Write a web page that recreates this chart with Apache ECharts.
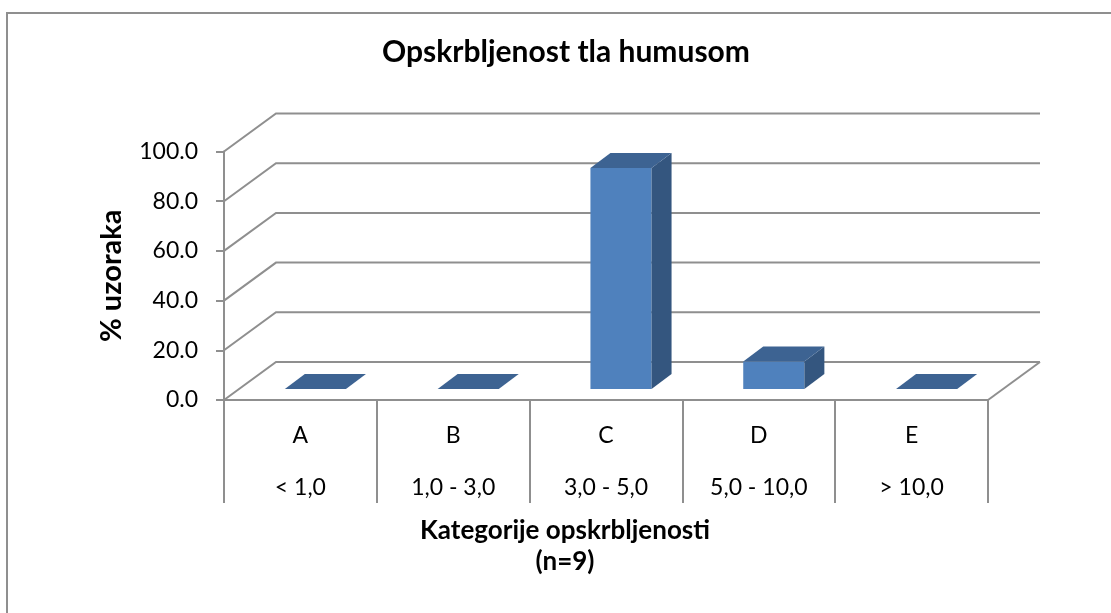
<!DOCTYPE html>
<html>
<head>
<meta charset="utf-8">
<script src="https://cdn.jsdelivr.net/npm/echarts@6/dist/echarts.min.js"></script>
<style>html,body{margin:0;padding:0;background:#fff;}#c{width:1111px;height:613px;}</style>
</head>
<body>
<div id="c"></div>
<script>
var titleText = 'Opskrbljenost tla humusom';
var categories = ['A', 'B', 'C', 'D', 'E'];
var ranges = ['< 1,0', '1,0 - 3,0', '3,0 - 5,0', '5,0 - 10,0', '> 10,0'];
var values = [0, 0, 88.9, 11.1, 0];
var yTicks = [0, 20, 40, 60, 80, 100];
var yName = '% uzoraka';
var xName = 'Kategorije opskrbljenosti\n(n=9)';

var GRAY = '#8f8f8f';
var FONT = 'Lato';
var WALL_DX = 52, WALL_DY = -38;   // back wall offset
var BAR_OX = 15, BAR_OY = -11;     // bar front face offset from front plane
var BAR_DX = 20, BAR_DY = -15;     // bar depth
var BAR_RATIO = 0.4;

var chart = echarts.init(document.getElementById('c'), null, {renderer: 'canvas'});

function renderWall(params, api) {
  var cs = params.coordSys;
  var v = api.value(1);
  var y = api.coord([0, v])[1];
  var l = cs.x, r = cs.x + cs.width;
  var children = [{
    type: 'polyline',
    shape: {points: [[l, y], [l + WALL_DX, y + WALL_DY], [r + WALL_DX, y + WALL_DY]]},
    style: {stroke: GRAY, lineWidth: 2, fill: null}
  }];
  if (v === 0) {
    children.push({
      type: 'line',
      shape: {x1: r, y1: y, x2: r + WALL_DX, y2: y + WALL_DY},
      style: {stroke: GRAY, lineWidth: 2}
    });
  }
  return {type: 'group', children: children};
}

function renderBar(params, api) {
  var idx = api.value(0);
  var v = api.value(1);
  var base = api.coord([idx, 0]);
  var top = api.coord([idx, v]);
  var band = api.size([1, 0])[0];
  var w = band * BAR_RATIO;
  var x0 = base[0] - w / 2 + BAR_OX;
  var yb = base[1] + BAR_OY;
  var yt = top[1] + BAR_OY;
  var children = [];
  if (yb - yt > 0.5) {
    children.push({
      type: 'rect',
      shape: {x: x0, y: yt, width: w, height: yb - yt},
      style: {fill: '#4f81bd'}
    });
    children.push({
      type: 'polygon',
      shape: {points: [[x0 + w, yt], [x0 + w + BAR_DX, yt + BAR_DY], [x0 + w + BAR_DX, yb + BAR_DY], [x0 + w, yb]]},
      style: {fill: '#34567f'}
    });
  }
  children.push({
    type: 'polygon',
    shape: {points: [[x0, yt], [x0 + w, yt], [x0 + w + BAR_DX, yt + BAR_DY], [x0 + BAR_DX, yt + BAR_DY]]},
    style: {fill: '#3d6392'}
  });
  return {type: 'group', children: children};
}

var option = {
  backgroundColor: '#fff',
  animation: false,
  title: {
    text: titleText,
    left: 561,
    textAlign: 'center',
    top: 32,
    textStyle: {fontFamily: FONT, fontWeight: 'bold', fontSize: 30, color: '#000'}
  },
  graphic: [{
    type: 'rect',
    shape: {x: 7, y: 13, width: 1300, height: 800},
    style: {fill: null, stroke: GRAY, lineWidth: 2},
    silent: true
  }],
  grid: {left: 224, top: 151.5, width: 764, height: 248.5, containLabel: false},
  xAxis: {
    type: 'category',
    data: categories,
    axisLine: {show: true, lineStyle: {color: GRAY, width: 2}},
    axisTick: {show: true, interval: 0, length: 103, lineStyle: {color: GRAY, width: 2}},
    splitLine: {show: false},
    axisLabel: {
      interval: 0,
      margin: 10,
      formatter: function (v, i) { return v + '\n' + ranges[i]; },
      fontFamily: FONT, fontSize: 23, color: '#000', lineHeight: 52
    },
    name: xName,
    nameLocation: 'middle',
    nameGap: 100,
    nameTextStyle: {fontFamily: FONT, fontWeight: 'bold', fontSize: 26, color: '#000', lineHeight: 31, padding: [0, 82, 0, 0]}
  },
  yAxis: {
    type: 'value',
    min: 0, max: 100, interval: 20,
    axisLine: {show: true, lineStyle: {color: GRAY, width: 2}},
    axisTick: {show: true, length: 8, lineStyle: {color: GRAY, width: 2}},
    splitLine: {show: false},
    axisLabel: {
      margin: 26,
      formatter: function (v) { return v.toFixed(1); },
      fontFamily: FONT, fontSize: 23, color: '#000'
    },
    name: yName,
    nameLocation: 'middle',
    nameRotate: 90,
    nameGap: 98,
    nameTextStyle: {fontFamily: FONT, fontWeight: 'bold', fontSize: 29, color: '#000'}
  },
  series: [{
    type: 'custom',
    name: 'walls',
    renderItem: renderWall,
    data: yTicks.map(function (t) { return [0, t]; }),
    encode: {x: 0, y: 1},
    clip: false,
    silent: true,
    z: 1
  }, {
    type: 'custom',
    name: '% uzoraka',
    renderItem: renderBar,
    data: values.map(function (v, i) { return [i, v]; }),
    encode: {x: 0, y: 1},
    clip: false,
    z: 5
  }]
};
chart.setOption(option);
</script>
</body>
</html>
